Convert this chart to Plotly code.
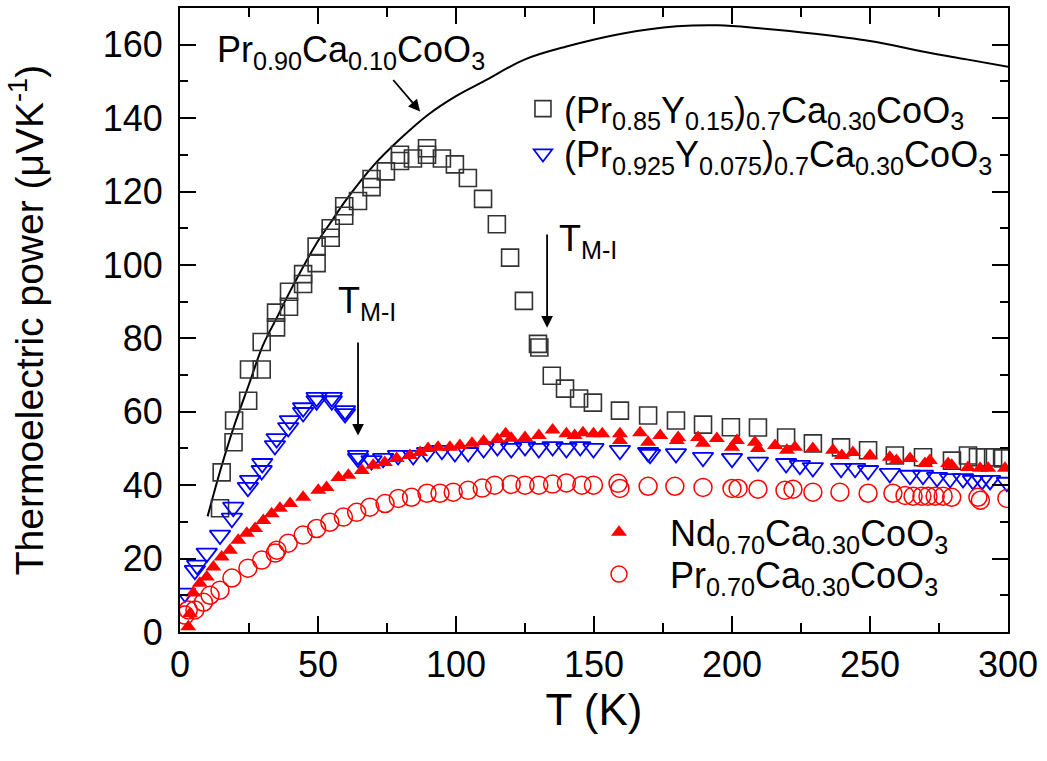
import plotly.graph_objects as go

# ---------------- data ----------------
# Pr0.90Ca0.10CoO3 (solid line)
T_line = [10, 15, 20, 25, 30, 35, 40, 45, 50, 55, 60, 70, 80, 90, 100, 110, 125, 140, 160, 180, 195, 210, 230, 250, 270, 285, 300]
S_line = [31.5, 45, 57, 67.5, 78, 85.5, 93, 100, 106.5, 112, 117.5, 127, 134.5, 141, 146, 150, 156, 159.5, 163, 165, 165.3, 164.5, 163, 161, 158, 156, 154]

# (Pr0.85Y0.15)0.7Ca0.30CoO3 (open squares)
T_sq = [14.5, 15.1, 19.4, 19.6, 24.7, 25, 29.6, 29.6, 34.8, 34.8, 39.5, 39.5, 44.6, 44.6, 49.5, 49.5, 54.6, 54.6,
        59.5, 59.5, 64.5, 69.4, 69.4, 74.6, 79.7, 79.7, 84.4, 89.5, 89.5, 94.9, 99.6, 104.3, 109.8, 114.8, 119.6,
        124.6, 129.7, 130.2, 134.7, 139.5, 144.6, 149.6, 159.4, 169.6, 179.7, 189.5, 199.6, 209.4, 219.6, 229.3,
        239.5, 249.3, 259, 269.2, 279.7, 285.5, 289.1, 291.7, 294.6, 298.2]
S_sq = [33.7, 43.5, 51.7, 57.6, 63, 71.5, 71.5, 79, 83, 87, 88.6, 92.7, 94.8, 97.5, 100.5, 105, 107.4, 110,
        113.4, 116, 117.4, 121.2, 123.4, 125.5, 128.3, 130, 129, 130, 131.8, 129, 127.4, 123.7, 118, 111.1, 102,
        90.2, 78.5, 77.5, 69.8, 66.3, 63.6, 62.5, 60.3, 59, 57.6, 56.5, 55.8, 55.7, 53, 51.4,
        50.3, 49.5, 48.1, 47.6, 46.7, 48.1, 47.6, 47.6, 47.6, 47.3]

# (Pr0.925Y0.075)0.7Ca0.30CoO3 (open down triangles)
T_bt = [1.8, 5.4, 6.2, 9.7, 14.5, 18.8, 19.3, 24.6, 25.4, 29.6, 29.8, 34.4, 35, 39.2, 39.8, 44.6, 44.6, 49.5,
        49.5, 55, 55, 59.8, 59.8, 64.5, 64.5, 69.4, 73.6, 79, 84.5, 89.5, 94.9, 99.6, 104.4, 110, 115, 120, 125,
        130, 135, 140, 145, 149.8, 159.4, 169.6, 170.3, 179.7, 189.5, 200, 209.4, 219.6, 224.6, 229.3, 239.5,
        244.6, 249.3, 257.2, 264.5, 269.2, 274.3, 279, 283.7, 287.3, 290.6, 293.5, 299.6]
S_bt = [10.6, 16.8, 18.2, 21.5, 26.4, 31, 34, 39.4, 41.3, 44, 45.9, 50.8, 52.7, 55.7, 57.6, 59.8, 61.1, 63,
        63.9, 63, 63.9, 60.3, 59.5, 48.1, 47.3, 46.7, 47.3, 48.1, 48.1, 48.9, 49.5, 48.9, 48.9, 50, 50.5, 50, 50.5,
        50, 50.5, 50, 50.5, 50, 49.5, 48.9, 48.4, 48.6, 47.6, 47.3, 46.3, 45.9, 45.4, 44.8, 44.6,
        44.6, 44, 43.2, 42.7, 42.7, 42.1, 41.8, 41.8, 41.3, 41.3, 41.3, 40.8]

# Nd0.70Ca0.30CoO3 (filled up triangles)
T_nd = [3, 3.6, 4.8, 7.2, 9.7, 12.1, 15.1, 18.1, 21.1, 24.2, 27.2, 30.2, 33.2, 36.2, 39.9, 44.6, 50.1, 53.1,
        57.4, 61, 65.9, 70, 74.2, 78.5, 83.3, 87, 89.9, 93.5, 97.8, 101.4, 105.8, 110, 115, 118, 120, 125, 130,
        135, 140, 143, 146, 149.8, 153, 159.4, 159.4, 166.7, 169.6, 174, 180, 180.5, 187.7, 189.5, 194.5, 200,
        201.8, 208.3, 209.4, 215.6, 219.9, 222.8, 229.3, 236.6, 239.8, 243.8, 250, 257.2, 259.6, 264.5, 269.9,
        271.7, 278.3, 279.6, 285.5, 289.9, 292.8, 298.9]
S_nd = [1.4, 5, 10.6, 13.3, 15, 17.7, 20.4, 22.3, 25, 26.9, 28.2, 30.4, 32.2, 33.7, 35, 36.7, 38.6, 39.4,
        42.1, 42.7, 44, 45.4, 46.2, 47.3, 48.1, 48.9, 50, 50.3, 50.3, 50.8, 51.4, 52, 52.5, 54, 52.8, 53, 53.5,
        55, 54, 53.5, 54.3, 54, 54, 54, 52.2, 54.3, 51.7, 53.5, 52.2, 53, 53, 51.4, 52.7, 50.3,
        52.2, 51.7, 50, 50.8, 49.5, 50.3, 50, 49.5, 48.1, 48.9, 48.1, 47.6, 46.7, 47.3, 45.9,
        46.7, 45.9, 45.4, 44.8, 44.6, 44.6, 44.6]

# Pr0.70Ca0.30CoO3 (open circles)
T_pr = [1.8, 3, 5.4, 8.5, 10.9, 14.5, 18.8, 24.6, 29.6, 34.5, 35.1, 39.2, 44.6, 49.5, 54.3, 59.2, 64, 68.8,
        74.3, 79.1, 83.9, 89.5, 94.2, 99, 104.4, 109.5, 114, 120, 125, 130, 135, 140, 145.6, 149.8, 158.7, 159.4,
        169.6, 179.3, 189.5, 200, 202.2, 209.4, 219.2, 222.1, 229.3, 239.1, 249.3, 258.3, 262.7, 265.6, 268.8,
        271, 273.6, 276.5, 279.6, 289.1, 290, 299.6]
S_pr = [4.6, 6, 6, 8.1, 10, 11.4, 14.7, 17.4, 19.6, 21.5, 22.3, 24.2, 26.4, 28.2, 29.9, 31.3, 32.6, 34,
        35, 36.4, 36.7, 37.8, 37.8, 38.1, 38.6, 39.2, 40, 40.2, 40, 40, 40.3, 40.6, 40, 40, 40.5, 39.1,
        39.7, 39.7, 39.4, 39.1, 39.1, 38.9, 38.6, 38.9, 38.1, 38.1, 37.8, 37.8, 37.2, 37, 37,
        37, 37, 37, 36.7, 36.7, 35.9, 36.4]

FONT = "Liberation Sans, Arial, sans-serif"
FS = 36

fig = go.Figure()

fig.add_trace(go.Scatter(x=T_line, y=S_line, mode="lines", line=dict(color="black", width=2, shape="spline"),
                         showlegend=False, name="Pr0.90Ca0.10CoO3"))
fig.add_trace(go.Scatter(x=T_sq, y=S_sq, mode="markers", legend="legend",
                         name="(Pr<sub>0.85</sub>Y<sub>0.15</sub>)<sub>0.7</sub>Ca<sub>0.30</sub>CoO<sub>3</sub>",
                         marker=dict(symbol="square-open", size=17, color="#333333", line=dict(width=1.6))))
fig.add_trace(go.Scatter(x=T_bt, y=S_bt, mode="markers", legend="legend2",
                         name="(Pr<sub>0.925</sub>Y<sub>0.075</sub>)<sub>0.7</sub>Ca<sub>0.30</sub>CoO<sub>3</sub>",
                         marker=dict(symbol="triangle-down-open", size=18, color="#0000FF", line=dict(width=1.8))))
fig.add_trace(go.Scatter(x=T_nd, y=S_nd, mode="markers", legend="legend3",
                         name="Nd<sub>0.70</sub>Ca<sub>0.30</sub>CoO<sub>3</sub>",
                         marker=dict(symbol="triangle-up", size=14, color="#FF0000", line=dict(width=0))))
fig.add_trace(go.Scatter(x=T_pr, y=S_pr, mode="markers", legend="legend4",
                         name="Pr<sub>0.70</sub>Ca<sub>0.30</sub>CoO<sub>3</sub>",
                         marker=dict(symbol="circle-open", size=18, color="#FF0000", line=dict(width=1.5))))

axis_common = dict(showline=True, linecolor="black", linewidth=2, mirror="allticks", ticks="inside",
                   tickcolor="black", tickwidth=2, showgrid=False, zeroline=False,
                   tickfont=dict(family=FONT, size=FS, color="black"))

fig.update_xaxes(range=[0, 300], tick0=0, dtick=50, ticklen=16, ticklabelstandoff=0,
                 minor=dict(dtick=25, ticklen=9, ticks="inside", tickcolor="black", tickwidth=2),
                 title=dict(text="T (K)", font=dict(family=FONT, size=44, color="black"), standoff=10),
                 **axis_common)
fig.update_yaxes(range=[0, 170], tick0=0, dtick=20, ticklen=16, ticklabelstandoff=8,
                 minor=dict(dtick=10, ticklen=8, ticks="inside", tickcolor="black", tickwidth=2),
                 title=dict(text="Thermoelectric power (\u03bcVK<sup>-1</sup>)",
                            font=dict(family=FONT, size=39, color="black"), standoff=47),
                 **axis_common)

annotations = [
    dict(x=12.8, y=158, xref="x", yref="y", text="Pr<sub>0.90</sub>Ca<sub>0.10</sub>CoO<sub>3</sub>",
         showarrow=False, xanchor="left", yanchor="middle", font=dict(family=FONT, size=FS, color="black")),
    dict(x=87, y=141.8, ax=76.8, ay=150.8, xref="x", yref="y", axref="x", ayref="y", text="",
         showarrow=True, arrowhead=2, arrowsize=1.3, arrowwidth=1.8, arrowcolor="black"),
    dict(x=56.5, y=89.5, xref="x", yref="y", text="T<sub>M-I</sub>", showarrow=False, xanchor="left",
         yanchor="middle", font=dict(family=FONT, size=FS, color="black")),
    dict(x=64.5, y=53.5, ax=64.5, ay=79.3, xref="x", yref="y", axref="x", ayref="y", text="",
         showarrow=True, arrowhead=2, arrowsize=1.3, arrowwidth=1.8, arrowcolor="black"),
    dict(x=136.5, y=106.4, xref="x", yref="y", text="T<sub>M-I</sub>", showarrow=False, xanchor="left",
         yanchor="middle", font=dict(family=FONT, size=FS, color="black")),
    dict(x=133, y=82.9, ax=133, ay=108.7, xref="x", yref="y", axref="x", ayref="y", text="",
         showarrow=True, arrowhead=2, arrowsize=1.3, arrowwidth=1.8, arrowcolor="black"),
]

leg_common = dict(xanchor="left", yanchor="middle", bgcolor="rgba(0,0,0,0)",
                  font=dict(family=FONT, size=FS, color="black"), tracegroupgap=0)

fig.update_layout(
    width=1047, height=761,
    margin=dict(l=180, r=39, t=6, b=129),
    paper_bgcolor="white", plot_bgcolor="white",
    font=dict(family=FONT, size=FS, color="black"),
    annotations=annotations,
    legend=dict(x=0.413, y=(632 - 107) / 626, itemwidth=32, **leg_common),
    legend2=dict(x=0.413, y=(632 - 152) / 626, itemwidth=32, **leg_common),
    legend3=dict(x=0.4686, y=(632 - 532) / 626, itemwidth=92, **leg_common),
    legend4=dict(x=0.4686, y=(632 - 574) / 626, itemwidth=92, **leg_common),
)

fig.write_html("out.html", config={"displayModeBar": False},
               post_script="document.body.style.margin='0px';")
